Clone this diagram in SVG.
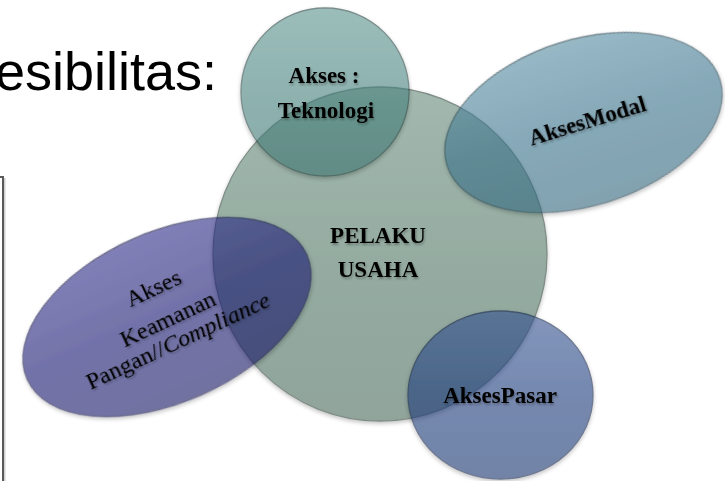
<svg xmlns="http://www.w3.org/2000/svg" width="725" height="481" viewBox="0 0 725 481">
<defs>
<style>
.lbl{font-family:"Liberation Serif","Times New Roman",serif;font-size:23px;font-weight:bold;fill:#000;text-anchor:middle;filter:url(#ts)}
.lblr{font-family:"Liberation Serif","Times New Roman",serif;font-size:24px;fill:#000;text-anchor:middle;filter:url(#ts)}
.shape{opacity:0.6}
.title{font-family:"Liberation Sans",Arial,sans-serif;font-size:54px;fill:#000}
.frame{fill:none;stroke:#5a5a5a;stroke-width:2}
.frame2{fill:none;stroke:#c4c4c4;stroke-width:1.2}
</style>
<filter id="sh" x="-10%" y="-10%" width="120%" height="125%">
<feDropShadow dx="0" dy="2" stdDeviation="2" flood-color="#000" flood-opacity="0.4"/>
</filter>
<filter id="ts" x="-10%" y="-30%" width="120%" height="170%">
<feDropShadow dx="1" dy="2" stdDeviation="1.2" flood-color="#000" flood-opacity="0.3"/>
</filter>
<linearGradient id="gBig" x1="0" y1="0" x2="0" y2="1">
<stop offset="0" stop-color="#668a7a"/><stop offset="0.5" stop-color="#507664"/><stop offset="1" stop-color="#48695a"/>
</linearGradient>
<linearGradient id="gTop" x1="0" y1="0" x2="0" y2="1">
<stop offset="0" stop-color="#5a938e"/><stop offset="0.5" stop-color="#44807b"/><stop offset="1" stop-color="#3c736f"/>
</linearGradient>
<linearGradient id="gModal" x1="0" y1="0" x2="0" y2="1">
<stop offset="0" stop-color="#5389a0"/><stop offset="0.5" stop-color="#377089"/><stop offset="1" stop-color="#30657c"/>
</linearGradient>
<linearGradient id="gPurple" x1="0" y1="0" x2="0" y2="1">
<stop offset="0" stop-color="#2e2d88"/><stop offset="0.5" stop-color="#171670"/><stop offset="1" stop-color="#141364"/>
</linearGradient>
<linearGradient id="gPasar" x1="0" y1="0" x2="0" y2="1">
<stop offset="0" stop-color="#345290"/><stop offset="0.5" stop-color="#1b3a7b"/><stop offset="1" stop-color="#17336e"/>
</linearGradient>
</defs>
<rect width="725" height="481" fill="#fff"/>

<text class="title" x="-5" y="90">esibilitas:</text>

<g id="frame">
<path class="frame" d="M0,177 H3 V481"/>
<path class="frame2" d="M4.8,178 V481"/>
</g>

<g id="connectors"></g>

<g id="node-pelaku">
<g class="shape"><circle cx="380" cy="254" r="167" fill="url(#gBig)" stroke="#2c4238" stroke-width="1.3" filter="url(#sh)"/></g>
<text class="lbl" x="378" y="243">PELAKU</text>
<text class="lbl" x="378" y="277">USAHA</text>
</g>

<g id="node-teknologi">
<g class="shape"><circle cx="325" cy="92" r="84" fill="url(#gTop)" stroke="#24433f" stroke-width="1.3" filter="url(#sh)"/></g>
<text class="lbl" x="324" y="83">Akses :</text>
<text class="lbl" x="326" y="118">Teknologi</text>
</g>

<g id="node-modal">
<g class="shape"><ellipse cx="0" cy="0" rx="143" ry="83" transform="translate(583.5,122.5) rotate(-17.5)" fill="url(#gModal)" stroke="#1d3e4c" stroke-width="1.3" filter="url(#sh)"/></g>
<text class="lbl" transform="translate(589.5,128) rotate(-17)" x="0" y="0">AksesModal</text>
</g>

<g id="node-keamanan">
<g class="shape"><ellipse cx="0" cy="0" rx="153" ry="85" transform="translate(167,317) rotate(-24)" fill="url(#gPurple)" stroke="#0c0b45" stroke-width="1.3" filter="url(#sh)"/></g>
<g transform="translate(171,326) rotate(-25)">
<text class="lblr" x="0" y="-34">Akses</text>
<text class="lblr" x="0" y="0">Keamanan</text>
<text class="lblr" x="0" y="24">Pangan//<tspan font-style="italic">Compliance</tspan></text>
</g>
</g>

<g id="node-pasar">
<g class="shape"><ellipse cx="500.5" cy="395" rx="92.5" ry="84" fill="url(#gPasar)" stroke="#0e2048" stroke-width="1.3" filter="url(#sh)"/></g>
<text class="lbl" x="500" y="403">AksesPasar</text>
</g>
</svg>
